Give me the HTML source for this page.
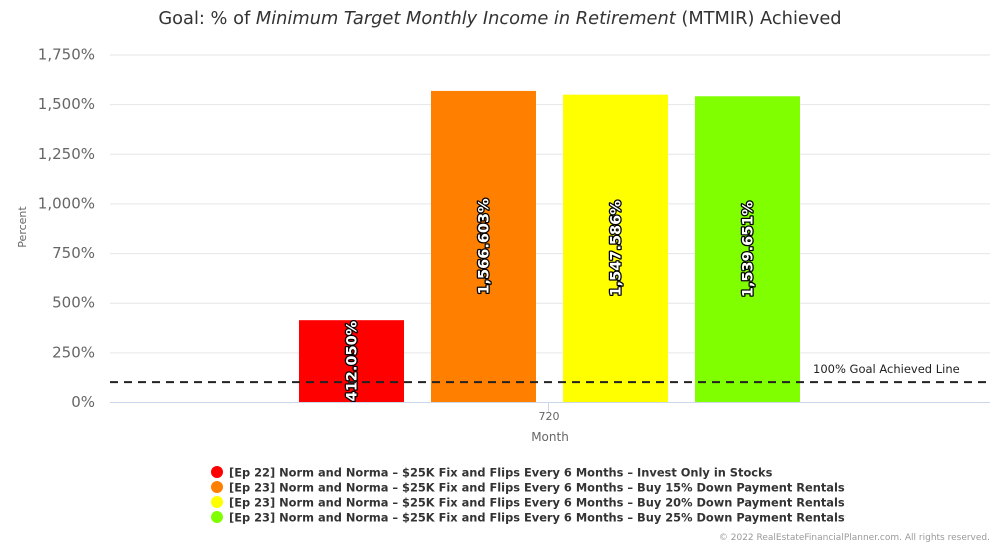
<!DOCTYPE html>
<html><head><meta charset="utf-8"><style>
body{margin:0;background:#fff;}
svg{display:block;font-family:"DejaVu Sans","Liberation Sans",sans-serif;}
</style></head><body>
<svg id="chart" width="1000" height="545" viewBox="0 0 1000 545">
<text x="500" y="24" text-anchor="middle" font-size="17.8" fill="#333">Goal: % of <tspan font-style="italic">Minimum Target Monthly Income in Retirement</tspan> (MTMIR) Achieved</text>
<g id="grid"></g>
<g id="bars"></g>
<line x1="110" x2="990" y1="402.5" y2="402.5" stroke="#ccd6eb"/>
<line x1="548.5" x2="548.5" y1="402" y2="412" stroke="#ccd6eb"/>
<text x="549" y="420" text-anchor="middle" font-size="11" fill="#666">720</text>
<text x="550" y="441" text-anchor="middle" font-size="12" fill="#666">Month</text>
<text transform="translate(26,227) rotate(-90)" text-anchor="middle" font-size="11" fill="#666">Percent</text>
<g id="goal"></g>
<g id="legend"></g>
<text x="990" y="540" text-anchor="end" font-size="9" fill="#999">© 2022 RealEstateFinancialPlanner.com. All rights reserved.</text>
</svg>
<script>
const categories=["720"];
const seriesNames=["[Ep 22] Norm and Norma - $25K Fix and Flips Every 6 Months - Invest Only in Stocks","[Ep 23] Norm and Norma - $25K Fix and Flips Every 6 Months - Buy 15% Down Payment Rentals","[Ep 23] Norm and Norma - $25K Fix and Flips Every 6 Months - Buy 20% Down Payment Rentals","[Ep 23] Norm and Norma - $25K Fix and Flips Every 6 Months - Buy 25% Down Payment Rentals"];
const seriesValues=[412.050,1566.603,1547.586,1539.651];
const seriesLabels=["412.050%","1,566.603%","1,547.586%","1,539.651%"];
const seriesColors=["#ff0000","#ff8000","#ffff00","#80ff00"];
const yTicks=[0,250,500,750,1000,1250,1500,1750];
const yTickLabels=["0%","250%","500%","750%","1,000%","1,250%","1,500%","1,750%"];
const goalValue=100;
const NS="http://www.w3.org/2000/svg";
function y(v){return 402-v*(347.5/1750);}
function barX(i){return 299+i*132;}
function mk(t,a,p){const e=document.createElementNS(NS,t);for(const k in a)e.setAttribute(k,a[k]);p.appendChild(e);return e;}
const grid=document.getElementById('grid');
yTicks.forEach((v,i)=>{
 if(v>0){const l=mk('line',{x1:110,x2:990,y1:y(v)+0.5,y2:y(v)+0.5,stroke:'#e6e6e6'},grid);
 
 }
 const t=mk('text',{x:95,y:y(v)+5,'text-anchor':'end','font-size':15,fill:'#666'},grid);
 t.textContent=yTickLabels[i];
 
 
});
const bars=document.getElementById('bars');
seriesValues.forEach((v,i)=>{
 const r=mk('rect',{x:barX(i),y:y(v),width:105,height:y(0)-y(v),fill:seriesColors[i]},bars);
 
 
 const cx=barX(i)+52.5, cy=(y(v)+y(0))/2;
 const t=mk('text',{transform:`translate(${cx+5},${cy}) rotate(-90)`,'text-anchor':'middle','font-size':14.5,'font-weight':'bold',fill:'#fff',stroke:'#000','stroke-width':2.5,'paint-order':'stroke','stroke-linejoin':'round'},bars);
 t.textContent=seriesLabels[i];
 
 
});
const goal=document.getElementById('goal');
const gl=mk('line',{x1:110,x2:990,y1:y(goalValue),y2:y(goalValue),stroke:'#222','stroke-width':2,'stroke-dasharray':'8,6'},goal);


const gt=mk('text',{x:813,y:y(goalValue)-9,'font-size':11.5,fill:'#222'},goal);
gt.textContent='100% Goal Achieved Line';


const lg=document.getElementById('legend');
seriesNames.forEach((n,i)=>{
 const yy=472+i*15;
 const c=mk('circle',{cx:217,cy:yy,r:6,fill:seriesColors[i]},lg);
 
 
 const t=mk('text',{x:229,y:yy+4.5,'font-size':11.4,'font-weight':'bold',fill:'#333'},lg);
 t.textContent=n.replace(/ - /g,' – ');
 
 
});
</script>
</body></html>
